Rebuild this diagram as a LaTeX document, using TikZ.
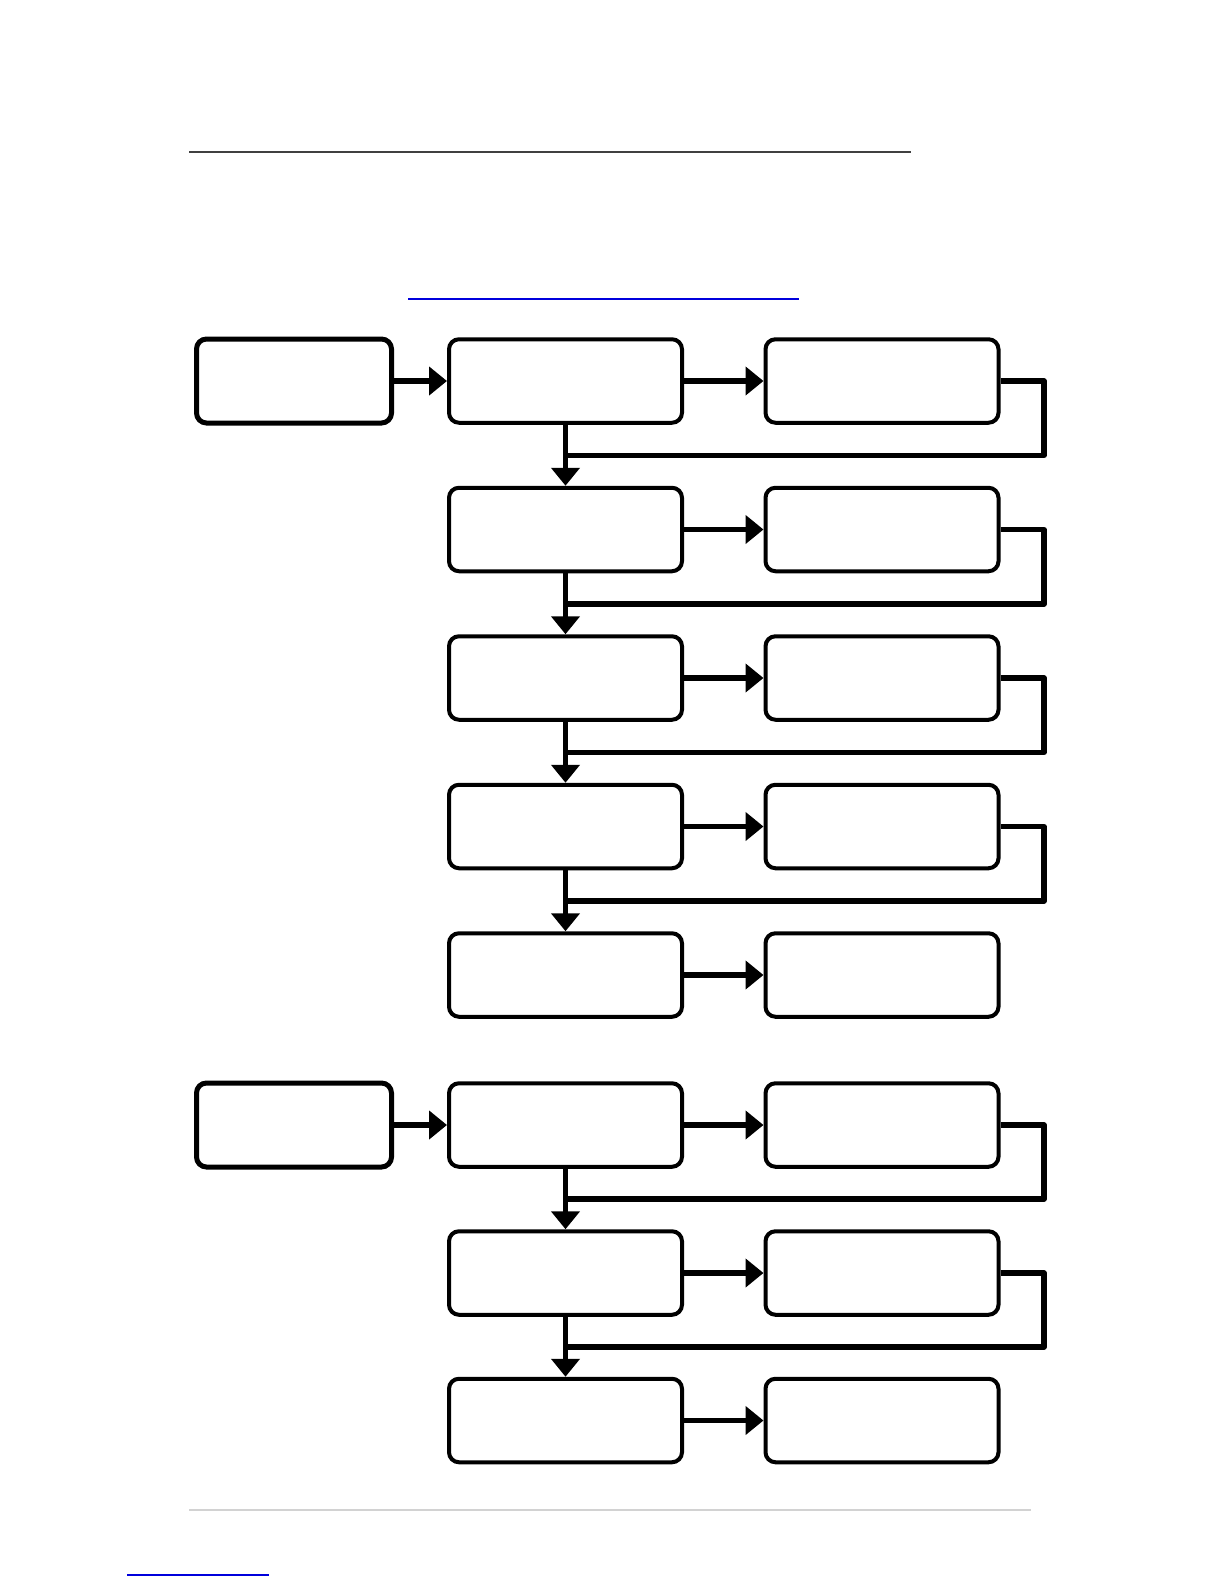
\documentclass[tikz,border=0pt]{standalone}
\usepackage{tikz}
\usetikzlibrary{arrows.meta}
\definecolor{rulegray}{RGB}{64,64,64}
\definecolor{palegray}{RGB}{210,210,210}
\definecolor{linkblue}{RGB}{0,0,220}

\begin{document}
\begin{tikzpicture}[x=0.5pt,y=-0.5pt,>={Triangle[length=9pt,width=14pt]},
	stepbox/.style={draw,line width=2pt,rounded corners=5pt,minimum width=116.5pt,minimum height=41.75pt,inner sep=0pt},
	startbox/.style={stepbox,line width=2.5pt,minimum width=97.5pt,minimum height=42pt},
	link/.style={line width=2.6pt},
	backlink/.style={line width=2.6pt,line join=round}]
	  \useasboundingbox (0,0) rectangle (1225,1585);
	  % page rules
	  \draw[line width=1pt,rulegray] (189,151.6) -- (910.6,151.6);
	  \draw[line width=0.6pt,linkblue] (408,299) -- (798.5,299);
	  \draw[line width=0.6pt,palegray] (189,1510) -- (1031,1510);
	  \draw[line width=0.6pt,linkblue] (127,1575) -- (269,1575);
	  % first chain
	  \node[startbox] (a1) at (294,381) {};
	  \node[stepbox] (b1) at (565.5,381) {};
	  \node[stepbox] (c1) at (882,381) {};
	  \node[stepbox] (b2) at (565.5,529.5) {};
	  \node[stepbox] (c2) at (882,529.5) {};
	  \node[stepbox] (b3) at (565.5,678) {};
	  \node[stepbox] (c3) at (882,678) {};
	  \node[stepbox] (b4) at (565.5,826.5) {};
	  \node[stepbox] (c4) at (882,826.5) {};
	  \node[stepbox] (b5) at (565.5,975) {};
	  \node[stepbox] (c5) at (882,975) {};
	  \coordinate (j1) at (565.5,455.5);
	  \coordinate (j2) at (565.5,604);
	  \coordinate (j3) at (565.5,752.5);
	  \coordinate (j4) at (565.5,901);
	  \coordinate (r1) at (1044,455.5);
	  \coordinate (r2) at (1044,604);
	  \coordinate (r3) at (1044,752.5);
	  \coordinate (r4) at (1044,901);
	  \draw[->,link] (a1) -- (b1);
	  \draw[->,link] (b1) -- (c1);
	  \draw[->,link] (b2) -- (c2);
	  \draw[->,link] (b3) -- (c3);
	  \draw[->,link] (b4) -- (c4);
	  \draw[->,link] (b5) -- (c5);
	  \draw[->,link] (b1) -- (b2);
	  \draw[->,link] (b2) -- (b3);
	  \draw[->,link] (b3) -- (b4);
	  \draw[->,link] (b4) -- (b5);
	  \draw[backlink] (c1.east) -| (r1) -- (j1);
	  \draw[backlink] (c2.east) -| (r2) -- (j2);
	  \draw[backlink] (c3.east) -| (r3) -- (j3);
	  \draw[backlink] (c4.east) -| (r4) -- (j4);
	  % second chain
	  \node[startbox] (a2) at (294,1125) {};
	  \node[stepbox] (b6) at (565.5,1125) {};
	  \node[stepbox] (c6) at (882,1125) {};
	  \node[stepbox] (b7) at (565.5,1273) {};
	  \node[stepbox] (c7) at (882,1273) {};
	  \node[stepbox] (b8) at (565.5,1420.5) {};
	  \node[stepbox] (c8) at (882,1420.5) {};
	  \coordinate (j6) at (565.5,1199);
	  \coordinate (j7) at (565.5,1347);
	  \coordinate (r6) at (1044,1199);
	  \coordinate (r7) at (1044,1347);
	  \draw[->,link] (a2) -- (b6);
	  \draw[->,link] (b6) -- (c6);
	  \draw[->,link] (b7) -- (c7);
	  \draw[->,link] (b8) -- (c8);
	  \draw[->,link] (b6) -- (b7);
	  \draw[->,link] (b7) -- (b8);
	  \draw[backlink] (c6.east) -| (r6) -- (j6);
	  \draw[backlink] (c7.east) -| (r7) -- (j7);
	\end{tikzpicture}
\end{document}
